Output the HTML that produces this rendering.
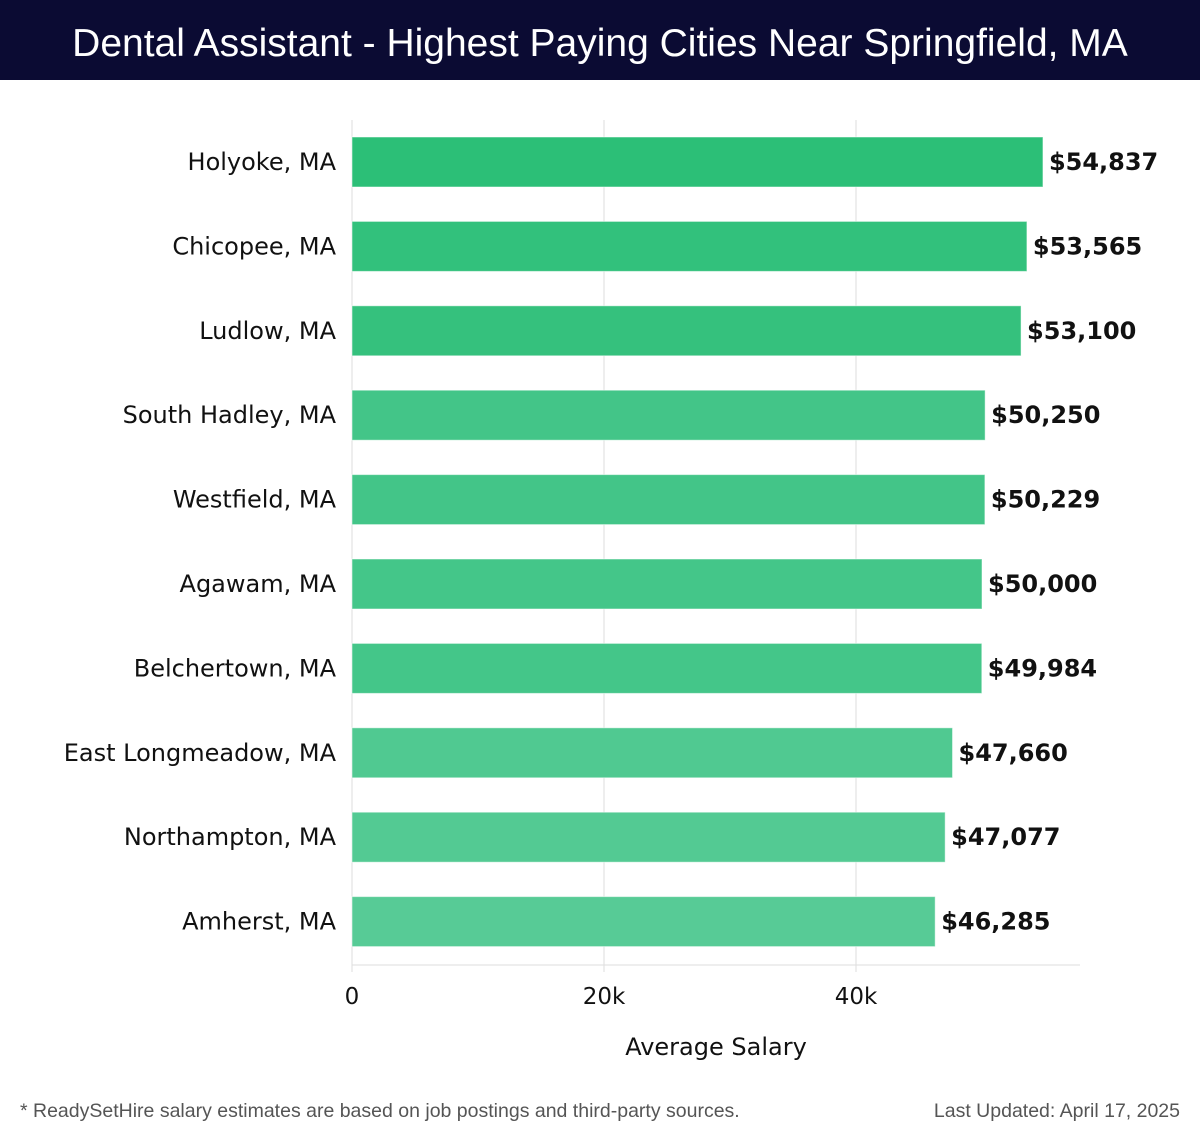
<!DOCTYPE html>
<html><head><meta charset="utf-8"><style>
body{margin:0;width:1200px;height:1140px;background:#fff;font-family:"DejaVu Sans","Liberation Sans",sans-serif;overflow:hidden}
#hdr{position:absolute;left:0;top:0;width:1200px;height:80px;background:#0b0b33;color:#fff;font-size:39px;text-align:center;line-height:88px;font-family:"Liberation Sans",sans-serif}
.ft{position:absolute;top:1100px;font-size:19.5px;color:#555;font-family:"Liberation Sans",sans-serif}
</style></head><body>
<div id="hdr">Dental Assistant - Highest Paying Cities Near Springfield, MA</div>
<svg id="c" width="1200" height="1140" style="position:absolute;left:0;top:0"></svg>
<div class="ft" style="left:20px">* ReadySetHire salary estimates are based on job postings and third-party sources.</div>
<div class="ft" style="right:20px">Last Updated: April 17, 2025</div>
<script>
const cities=["Holyoke, MA","Chicopee, MA","Ludlow, MA","South Hadley, MA","Westfield, MA","Agawam, MA","Belchertown, MA","East Longmeadow, MA","Northampton, MA","Amherst, MA"];
const salaries=[54837,53565,53100,50250,50229,50000,49984,47660,47077,46285];
const ticks=[0,20000,40000];
const tickLabels=["0","20k","40k"];
const NS="http://www.w3.org/2000/svg",svg=document.getElementById('c');
const x0=352,pxPer=252/20000,plotTop=120,step=84.4,bh=50;
const X=v=>x0+v*pxPer, Y=i=>plotTop+17+i*step;
function mk(t,a,p){const e=document.createElementNS(NS,t);for(const k in a)e.setAttribute(k,a[k]);(p||svg).appendChild(e);return e;}
ticks.forEach((t,i)=>{
 const g=mk('line',{x1:X(t),x2:X(t),y1:plotTop,y2:972,stroke:'#ddd','stroke-width':1});
 
 
 const l=mk('text',{x:X(t),y:1004,'text-anchor':'middle','font-size':23,fill:'#111'});l.textContent=tickLabels[i];
 
 
});
const ax=mk('line',{x1:x0,x2:1080,y1:965,y2:965,stroke:'#ddd','stroke-width':1});


const mx=Math.max(...salaries),mn=Math.min(...salaries);
salaries.forEach((v,i)=>{
 const f=(mx-v)/(mx-mn);
 const r=Math.round(44+f*43),g=Math.round(191+f*12),b=Math.round(119+f*31);
 const rc=mk('rect',{x:x0,y:Y(i),width:X(v)-x0,height:bh,fill:`rgb(${r},${g},${b})`,stroke:'rgba(255,255,255,0.5)','stroke-width':1});
 
 
 const vl=mk('text',{x:X(v)+6,y:Y(i)+bh/2+8,'font-size':24,'font-weight':'bold',fill:'#111'});vl.textContent='$'+v.toLocaleString('en-US');
 
 
 const cl=mk('text',{x:336,y:Y(i)+bh/2+8,'text-anchor':'end','font-size':24,fill:'#111'});cl.textContent=cities[i];
 
 
});
const at=mk('text',{x:716,y:1055,'text-anchor':'middle','font-size':24,fill:'#111'});at.textContent='Average Salary';


</script>
</body></html>
